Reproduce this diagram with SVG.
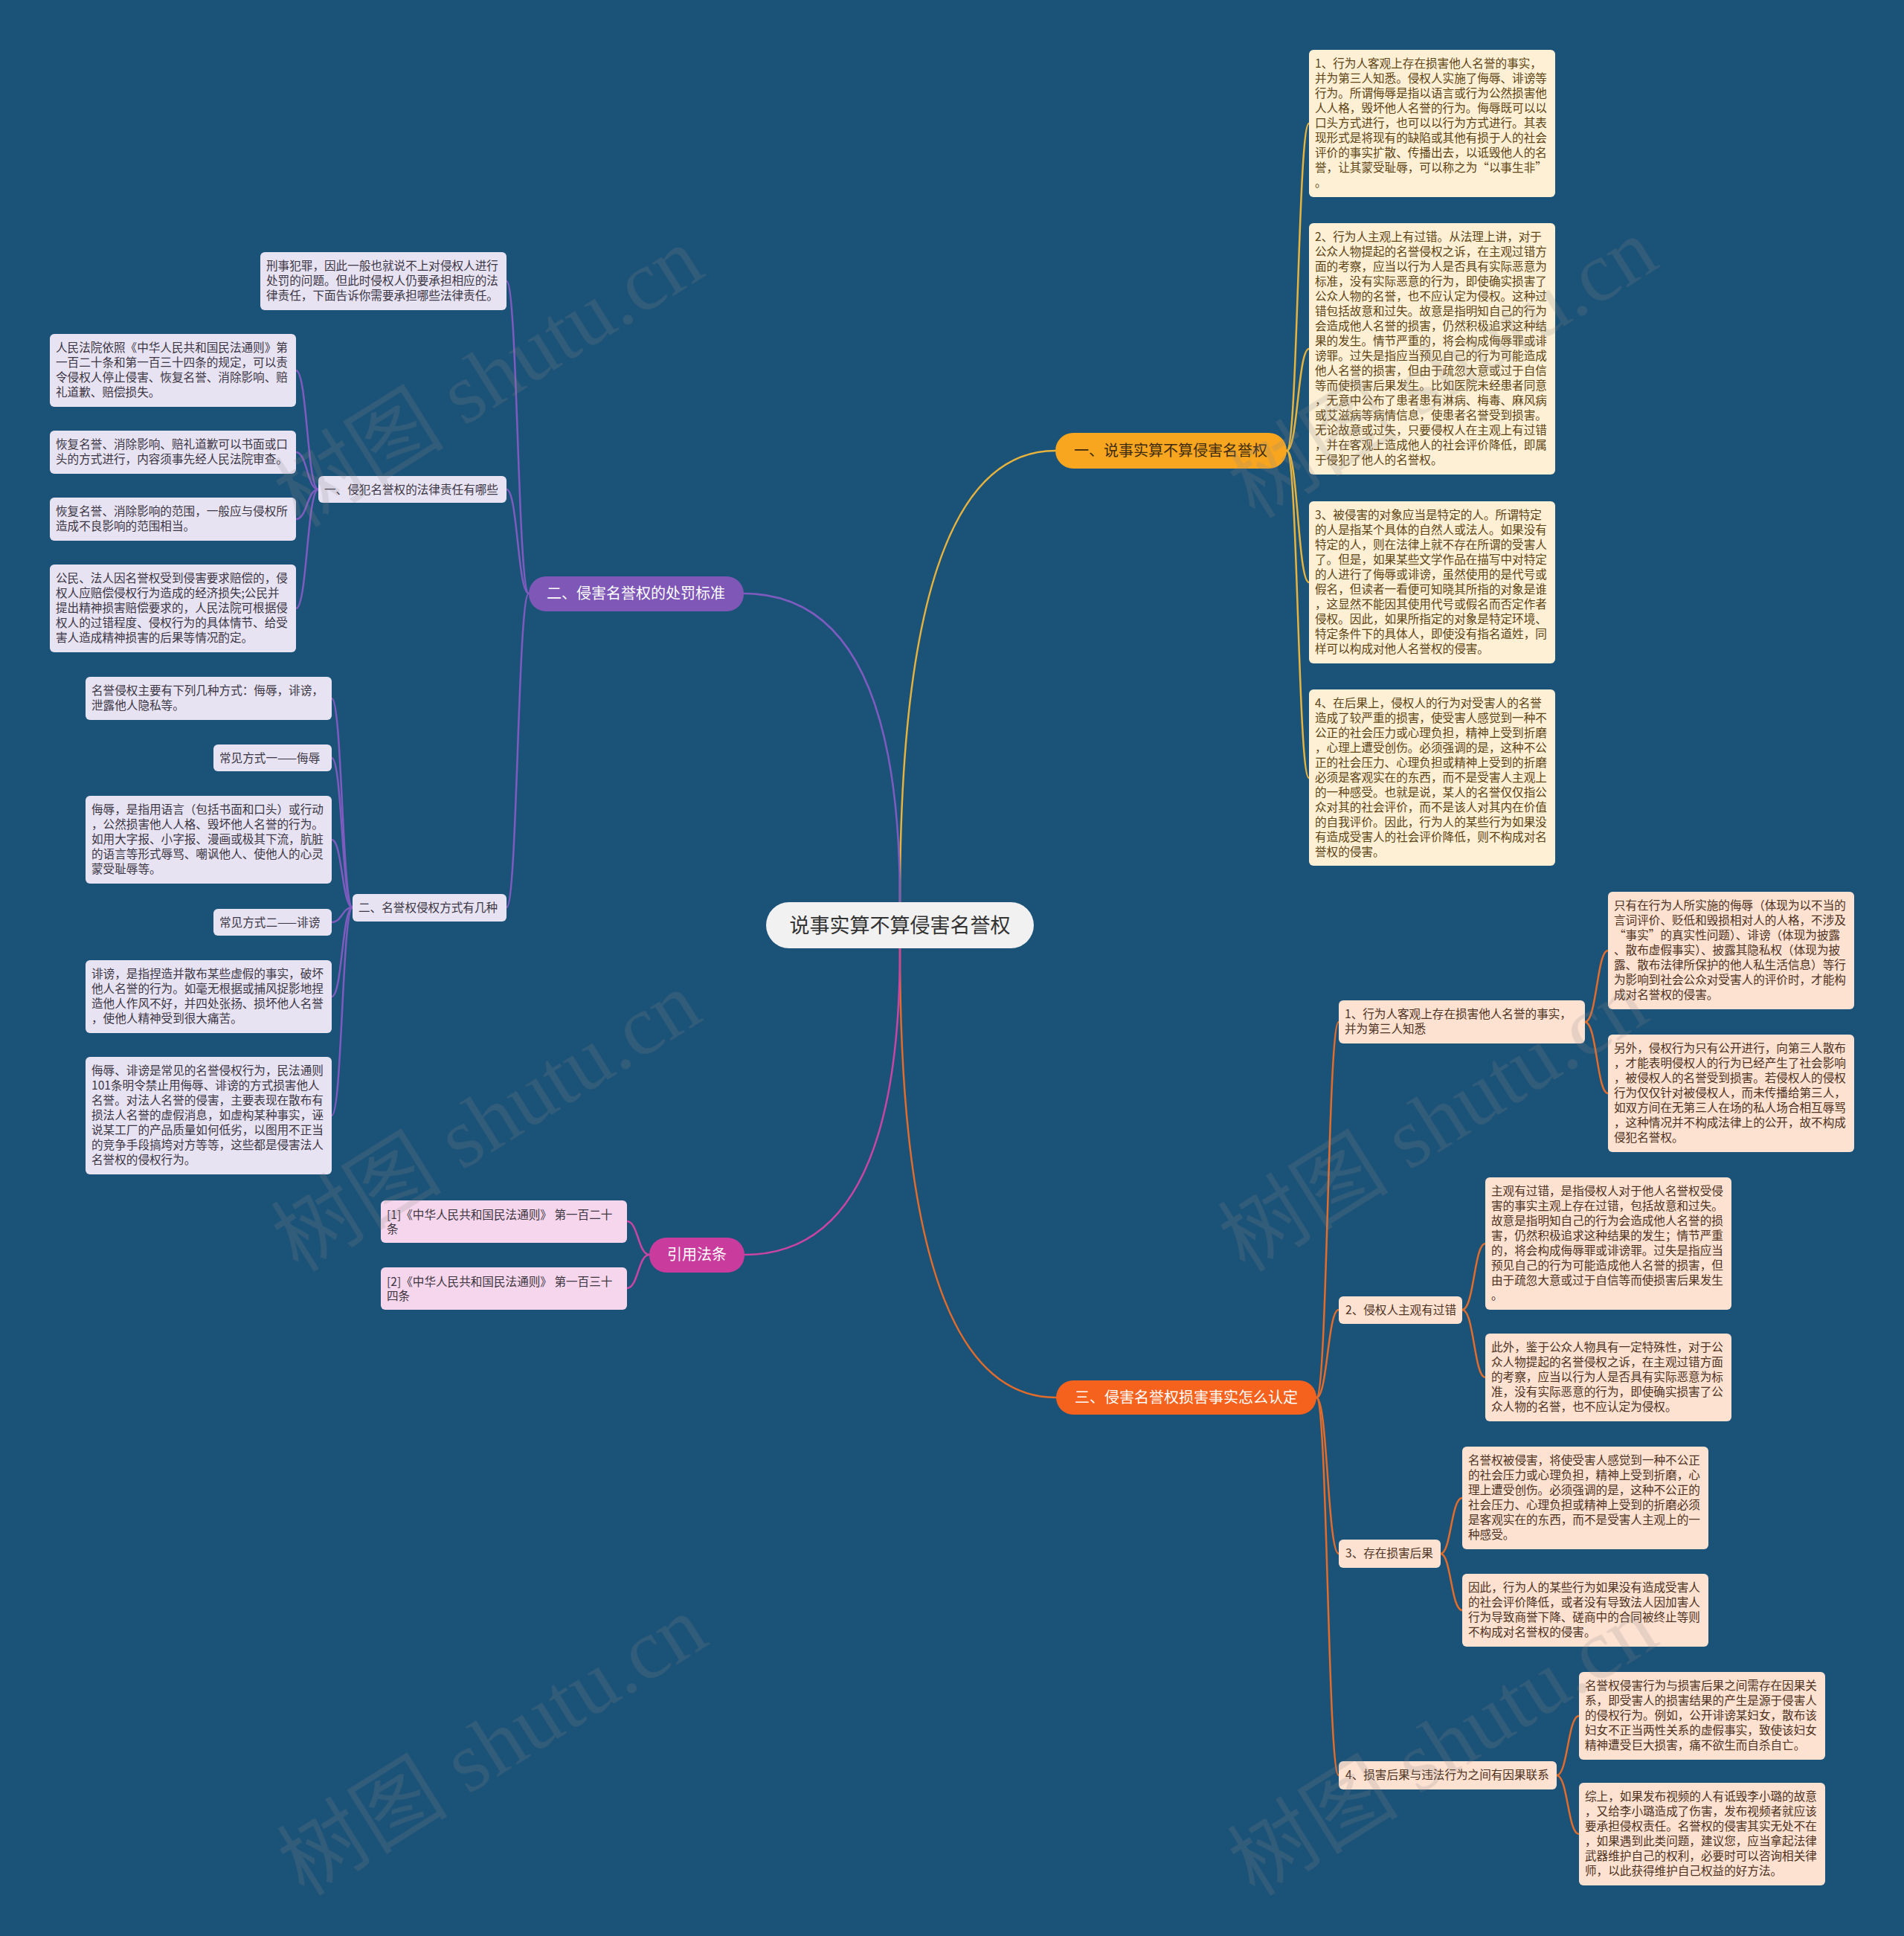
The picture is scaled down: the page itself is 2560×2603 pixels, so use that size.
<svg xmlns="http://www.w3.org/2000/svg" width="2560" height="2603" viewBox="0 0 2560 2603">
<style>
.t{font-family:"Noto Sans CJK SC","Noto Sans CJK JP",sans-serif;font-size:15.6px}
.b{font-family:"Noto Sans CJK SC","Noto Sans CJK JP",sans-serif;font-size:20px;text-anchor:middle}
.k1 rect{fill:#fdf0d4}.k1 text{fill:#5e4315}
.k2 rect{fill:#e8e3f3}.k2 text{fill:#3b3644}
.k3 rect{fill:#fde1d1}.k3 text{fill:#4e3222}
.k4 rect{fill:#f5d6ec}.k4 text{fill:#3d3540}
#connectors path{fill:none;stroke-width:2.5;stroke-linecap:round}
.wm{font-family:"Liberation Serif","Noto Sans CJK SC",serif;font-size:115px;fill:#8a8a8a;opacity:.2;text-anchor:middle}
</style>
<rect width="2560" height="2603" fill="#1b5277"/>
<g id="connectors">
<g stroke="#e6b33f">
<path d="M1210,1213 Q1210,606 1419,606"/>
<path d="M1730,606 C1745,606 1745,166 1760,166"/>
<path d="M1730,606 C1745,606 1745,469 1760,469"/>
<path d="M1730,606 C1745,606 1745,783 1760,783"/>
<path d="M1730,606 C1745,606 1745,1046 1760,1046"/>
</g>
<g stroke="#7e5cbf">
<path d="M1210,1213 Q1210,798 1000,798"/>
<path d="M711,798 C696,798 696,378 681,378"/>
<path d="M711,798 C696,798 696,658 681,658"/>
<path d="M711,798 C696,798 696,1220 681,1220"/>
<path d="M428,658 C413,658 413,498 398,498"/>
<path d="M428,658 C413,658 413,608 398,608"/>
<path d="M428,658 C413,658 413,698 398,698"/>
<path d="M428,658 C413,658 413,818 398,818"/>
<path d="M474,1220 C460,1220 460,939 446,939"/>
<path d="M474,1220 C460,1220 460,1019 446,1019"/>
<path d="M474,1220 C460,1220 460,1129 446,1129"/>
<path d="M474,1220 C460,1220 460,1240 446,1240"/>
<path d="M474,1220 C460,1220 460,1340 446,1340"/>
<path d="M474,1220 C460,1220 460,1500 446,1500"/>
</g>
<g stroke="#e26c2c">
<path d="M1210,1275 Q1210,1879 1420,1879"/>
<path d="M1770,1879 C1785,1879 1785,1374 1800,1374"/>
<path d="M1770,1879 C1785,1879 1785,1761 1800,1761"/>
<path d="M1770,1879 C1785,1879 1785,2089 1800,2089"/>
<path d="M1770,1879 C1785,1879 1785,2387 1800,2387"/>
<path d="M2131,1374 C2147,1374 2147,1278 2162,1278"/>
<path d="M2131,1374 C2147,1374 2147,1470 2162,1470"/>
<path d="M1966,1761 C1982,1761 1982,1672 1997,1672"/>
<path d="M1966,1761 C1982,1761 1982,1852 1997,1852"/>
<path d="M1937,2089 C1951,2089 1951,2014 1966,2014"/>
<path d="M1937,2089 C1951,2089 1951,2165 1966,2165"/>
<path d="M2093,2387 C2108,2387 2108,2307 2123,2307"/>
<path d="M2093,2387 C2108,2387 2108,2466 2123,2466"/>
</g>
<g stroke="#c945a3">
<path d="M1210,1275 Q1210,1687 1001,1687"/>
<path d="M873,1687 C858,1687 858,1642 843,1642"/>
<path d="M873,1687 C858,1687 858,1732 843,1732"/>
</g>
</g>

<g id="root">
<rect x="1030" y="1213" width="360" height="62" rx="31" fill="#f1f1f1"/>
<text x="1210" y="1254" font-family="Noto Sans CJK SC, sans-serif" font-size="27" fill="#333" text-anchor="middle">说事实算不算侵害名誉权</text>
</g>

<g id="b1">
<rect x="1419" y="582" width="311" height="48" rx="24" fill="#f8a51f"/>
<text class="b" x="1574" y="613" fill="#3d2b0f">一、说事实算不算侵害名誉权</text>
</g>
<g id="b2">
<rect x="711" y="775" width="289" height="47" rx="23" fill="#7f57b6"/>
<text class="b" x="855" y="805" fill="#fff">二、侵害名誉权的处罚标准</text>
</g>
<g id="b3">
<rect x="1420" y="1856" width="350" height="46" rx="23" fill="#f5621e"/>
<text class="b" x="1595" y="1886" fill="#fff">三、侵害名誉权损害事实怎么认定</text>
</g>
<g id="b4">
<rect x="873" y="1664" width="128" height="47" rx="23" fill="#c93b9c"/>
<text class="b" x="937" y="1694" fill="#fff">引用法条</text>
</g>

<g id="c1" class="k1">
<rect x="1760" y="67" width="331" height="198" rx="6"/>
<text class="t"><tspan x="1768" y="91">1、行为人客观上存在损害他人名誉的事实，</tspan><tspan x="1768" y="111">并为第三人知悉。侵权人实施了侮辱、诽谤等</tspan><tspan x="1768" y="131">行为。所谓侮辱是指以语言或行为公然损害他</tspan><tspan x="1768" y="151">人人格，毁坏他人名誉的行为。侮辱既可以以</tspan><tspan x="1768" y="171">口头方式进行，也可以以行为方式进行。其表</tspan><tspan x="1768" y="191">现形式是将现有的缺陷或其他有损于人的社会</tspan><tspan x="1768" y="211">评价的事实扩散、传播出去，以诋毁他人的名</tspan><tspan x="1768" y="231">誉，让其蒙受耻辱，可以称之为“以事生非”</tspan><tspan x="1768" y="251">。</tspan></text>
</g>
<g id="c2" class="k1">
<rect x="1760" y="300" width="331" height="338" rx="6"/>
<text class="t"><tspan x="1768" y="324">2、行为人主观上有过错。从法理上讲，对于</tspan><tspan x="1768" y="344">公众人物提起的名誉侵权之诉，在主观过错方</tspan><tspan x="1768" y="364">面的考察，应当以行为人是否具有实际恶意为</tspan><tspan x="1768" y="384">标准，没有实际恶意的行为，即使确实损害了</tspan><tspan x="1768" y="404">公众人物的名誉，也不应认定为侵权。这种过</tspan><tspan x="1768" y="424">错包括故意和过失。故意是指明知自己的行为</tspan><tspan x="1768" y="444">会造成他人名誉的损害，仍然积极追求这种结</tspan><tspan x="1768" y="464">果的发生。情节严重的，将会构成侮辱罪或诽</tspan><tspan x="1768" y="484">谤罪。过失是指应当预见自己的行为可能造成</tspan><tspan x="1768" y="504">他人名誉的损害，但由于疏忽大意或过于自信</tspan><tspan x="1768" y="524">等而使损害后果发生。比如医院未经患者同意</tspan><tspan x="1768" y="544">，无意中公布了患者患有淋病、梅毒、麻风病</tspan><tspan x="1768" y="564">或艾滋病等病情信息，使患者名誉受到损害。</tspan><tspan x="1768" y="584">无论故意或过失，只要侵权人在主观上有过错</tspan><tspan x="1768" y="604">，并在客观上造成他人的社会评价降低，即属</tspan><tspan x="1768" y="624">于侵犯了他人的名誉权。</tspan></text>
</g>
<g id="c3" class="k1">
<rect x="1760" y="674" width="331" height="218" rx="6"/>
<text class="t"><tspan x="1768" y="698">3、被侵害的对象应当是特定的人。所谓特定</tspan><tspan x="1768" y="718">的人是指某个具体的自然人或法人。如果没有</tspan><tspan x="1768" y="738">特定的人，则在法律上就不存在所谓的受害人</tspan><tspan x="1768" y="758">了。但是，如果某些文学作品在描写中对特定</tspan><tspan x="1768" y="778">的人进行了侮辱或诽谤，虽然使用的是代号或</tspan><tspan x="1768" y="798">假名，但读者一看便可知晓其所指的对象是谁</tspan><tspan x="1768" y="818">，这显然不能因其使用代号或假名而否定作者</tspan><tspan x="1768" y="838">侵权。因此，如果所指定的对象是特定环境、</tspan><tspan x="1768" y="858">特定条件下的具体人，即使没有指名道姓，同</tspan><tspan x="1768" y="878">样可以构成对他人名誉权的侵害。</tspan></text>
</g>
<g id="c4" class="k1">
<rect x="1760" y="927" width="331" height="237" rx="6"/>
<text class="t"><tspan x="1768" y="951">4、在后果上，侵权人的行为对受害人的名誉</tspan><tspan x="1768" y="971">造成了较严重的损害，使受害人感觉到一种不</tspan><tspan x="1768" y="991">公正的社会压力或心理负担，精神上受到折磨</tspan><tspan x="1768" y="1011">，心理上遭受创伤。必须强调的是，这种不公</tspan><tspan x="1768" y="1031">正的社会压力、心理负担或精神上受到的折磨</tspan><tspan x="1768" y="1051">必须是客观实在的东西，而不是受害人主观上</tspan><tspan x="1768" y="1071">的一种感受。也就是说，某人的名誉仅仅指公</tspan><tspan x="1768" y="1091">众对其的社会评价，而不是该人对其内在价值</tspan><tspan x="1768" y="1111">的自我评价。因此，行为人的某些行为如果没</tspan><tspan x="1768" y="1131">有造成受害人的社会评价降低，则不构成对名</tspan><tspan x="1768" y="1151">誉权的侵害。</tspan></text>
</g>

<g id="s1" class="k3">
<rect x="1800" y="1345" width="331" height="58" rx="6"/>
<text class="t"><tspan x="1808" y="1369">1、行为人客观上存在损害他人名誉的事实，</tspan><tspan x="1808" y="1389">并为第三人知悉</tspan></text>
</g>
<g id="s1a" class="k3">
<rect x="2162" y="1199" width="331" height="158" rx="6"/>
<text class="t"><tspan x="2170" y="1223">只有在行为人所实施的侮辱（体现为以不当的</tspan><tspan x="2170" y="1243">言词评价、贬低和毁损相对人的人格，不涉及</tspan><tspan x="2170" y="1263">“事实”的真实性问题）、诽谤（体现为披露</tspan><tspan x="2170" y="1283">、散布虚假事实）、披露其隐私权（体现为披</tspan><tspan x="2170" y="1303">露、散布法律所保护的他人私生活信息）等行</tspan><tspan x="2170" y="1323">为影响到社会公众对受害人的评价时，才能构</tspan><tspan x="2170" y="1343">成对名誉权的侵害。</tspan></text>
</g>
<g id="s1b" class="k3">
<rect x="2162" y="1391" width="331" height="158" rx="6"/>
<text class="t"><tspan x="2170" y="1415">另外，侵权行为只有公开进行，向第三人散布</tspan><tspan x="2170" y="1435">，才能表明侵权人的行为已经产生了社会影响</tspan><tspan x="2170" y="1455">，被侵权人的名誉受到损害。若侵权人的侵权</tspan><tspan x="2170" y="1475">行为仅仅针对被侵权人，而未传播给第三人，</tspan><tspan x="2170" y="1495">如双方间在无第三人在场的私人场合相互辱骂</tspan><tspan x="2170" y="1515">，这种情况并不构成法律上的公开，故不构成</tspan><tspan x="2170" y="1535">侵犯名誉权。</tspan></text>
</g>
<g id="s2" class="k3">
<rect x="1800" y="1743" width="166" height="37" rx="6"/>
<text class="t" x="1809" y="1767">2、侵权人主观有过错</text>
</g>
<g id="s2a" class="k3">
<rect x="1997" y="1583" width="331" height="178" rx="6"/>
<text class="t"><tspan x="2005" y="1607">主观有过错，是指侵权人对于他人名誉权受侵</tspan><tspan x="2005" y="1627">害的事实主观上存在过错，包括故意和过失。</tspan><tspan x="2005" y="1647">故意是指明知自己的行为会造成他人名誉的损</tspan><tspan x="2005" y="1667">害，仍然积极追求这种结果的发生；情节严重</tspan><tspan x="2005" y="1687">的，将会构成侮辱罪或诽谤罪。过失是指应当</tspan><tspan x="2005" y="1707">预见自己的行为可能造成他人名誉的损害，但</tspan><tspan x="2005" y="1727">由于疏忽大意或过于自信等而使损害后果发生</tspan><tspan x="2005" y="1747">。</tspan></text>
</g>
<g id="s2b" class="k3">
<rect x="1997" y="1793" width="331" height="118" rx="6"/>
<text class="t"><tspan x="2005" y="1817">此外，鉴于公众人物具有一定特殊性，对于公</tspan><tspan x="2005" y="1837">众人物提起的名誉侵权之诉，在主观过错方面</tspan><tspan x="2005" y="1857">的考察，应当以行为人是否具有实际恶意为标</tspan><tspan x="2005" y="1877">准，没有实际恶意的行为，即使确实损害了公</tspan><tspan x="2005" y="1897">众人物的名誉，也不应认定为侵权。</tspan></text>
</g>
<g id="s3" class="k3">
<rect x="1800" y="2070" width="137" height="38" rx="6"/>
<text class="t" x="1809" y="2094">3、存在损害后果</text>
</g>
<g id="s3a" class="k3">
<rect x="1966" y="1945" width="331" height="138" rx="6"/>
<text class="t"><tspan x="1974" y="1969">名誉权被侵害，将使受害人感觉到一种不公正</tspan><tspan x="1974" y="1989">的社会压力或心理负担，精神上受到折磨，心</tspan><tspan x="1974" y="2009">理上遭受创伤。必须强调的是，这种不公正的</tspan><tspan x="1974" y="2029">社会压力、心理负担或精神上受到的折磨必须</tspan><tspan x="1974" y="2049">是客观实在的东西，而不是受害人主观上的一</tspan><tspan x="1974" y="2069">种感受。</tspan></text>
</g>
<g id="s3b" class="k3">
<rect x="1966" y="2116" width="331" height="98" rx="6"/>
<text class="t"><tspan x="1974" y="2140">因此，行为人的某些行为如果没有造成受害人</tspan><tspan x="1974" y="2160">的社会评价降低，或者没有导致法人因加害人</tspan><tspan x="1974" y="2180">行为导致商誉下降、磋商中的合同被终止等则</tspan><tspan x="1974" y="2200">不构成对名誉权的侵害。</tspan></text>
</g>
<g id="s4" class="k3">
<rect x="1800" y="2368" width="293" height="38" rx="6"/>
<text class="t" x="1809" y="2392">4、损害后果与违法行为之间有因果联系</text>
</g>
<g id="s4a" class="k3">
<rect x="2123" y="2248" width="331" height="118" rx="6"/>
<text class="t"><tspan x="2131" y="2272">名誉权侵害行为与损害后果之间需存在因果关</tspan><tspan x="2131" y="2292">系，即受害人的损害结果的产生是源于侵害人</tspan><tspan x="2131" y="2312">的侵权行为。例如，公开诽谤某妇女，散布该</tspan><tspan x="2131" y="2332">妇女不正当两性关系的虚假事实，致使该妇女</tspan><tspan x="2131" y="2352">精神遭受巨大损害，痛不欲生而自杀自亡。</tspan></text>
</g>
<g id="s4b" class="k3">
<rect x="2123" y="2397" width="331" height="138" rx="6"/>
<text class="t"><tspan x="2131" y="2421">综上，如果发布视频的人有诋毁李小璐的故意</tspan><tspan x="2131" y="2441">，又给李小璐造成了伤害，发布视频者就应该</tspan><tspan x="2131" y="2461">要承担侵权责任。名誉权的侵害其实无处不在</tspan><tspan x="2131" y="2481">，如果遇到此类问题，建议您，应当拿起法律</tspan><tspan x="2131" y="2501">武器维护自己的权利，必要时可以咨询相关律</tspan><tspan x="2131" y="2521">师，以此获得维护自己权益的好方法。</tspan></text>
</g>

<g id="l2a" class="k2">
<rect x="350" y="339" width="331" height="78" rx="6"/>
<text class="t"><tspan x="358" y="363">刑事犯罪，因此一般也就说不上对侵权人进行</tspan><tspan x="358" y="383">处罚的问题。但此时侵权人仍要承担相应的法</tspan><tspan x="358" y="403">律责任，下面告诉你需要承担哪些法律责任。</tspan></text>
</g>
<g id="l2b" class="k2">
<rect x="428" y="640" width="253" height="36" rx="6"/>
<text class="t" x="436" y="664">一、侵犯名誉权的法律责任有哪些</text>
</g>
<g id="l2b1" class="k2">
<rect x="67" y="449" width="331" height="98" rx="6"/>
<text class="t"><tspan x="75" y="473">人民法院依照《中华人民共和国民法通则》第</tspan><tspan x="75" y="493">一百二十条和第一百三十四条的规定，可以责</tspan><tspan x="75" y="513">令侵权人停止侵害、恢复名誉、消除影响、赔</tspan><tspan x="75" y="533">礼道歉、赔偿损失。</tspan></text>
</g>
<g id="l2b2" class="k2">
<rect x="67" y="579" width="331" height="58" rx="6"/>
<text class="t"><tspan x="75" y="603">恢复名誉、消除影响、赔礼道歉可以书面或口</tspan><tspan x="75" y="623">头的方式进行，内容须事先经人民法院审查。</tspan></text>
</g>
<g id="l2b3" class="k2">
<rect x="67" y="669" width="331" height="58" rx="6"/>
<text class="t"><tspan x="75" y="693">恢复名誉、消除影响的范围，一般应与侵权所</tspan><tspan x="75" y="713">造成不良影响的范围相当。</tspan></text>
</g>
<g id="l2b4" class="k2">
<rect x="67" y="759" width="331" height="118" rx="6"/>
<text class="t"><tspan x="75" y="783">公民、法人因名誉权受到侵害要求赔偿的，侵</tspan><tspan x="75" y="803">权人应赔偿侵权行为造成的经济损失;公民并</tspan><tspan x="75" y="823">提出精神损害赔偿要求的，人民法院可根据侵</tspan><tspan x="75" y="843">权人的过错程度、侵权行为的具体情节、给受</tspan><tspan x="75" y="863">害人造成精神损害的后果等情况酌定。</tspan></text>
</g>
<g id="l2c" class="k2">
<rect x="474" y="1202" width="207" height="37" rx="6"/>
<text class="t" x="482" y="1226">二、名誉权侵权方式有几种</text>
</g>
<g id="l2c1" class="k2">
<rect x="115" y="910" width="331" height="58" rx="6"/>
<text class="t"><tspan x="123" y="934">名誉侵权主要有下列几种方式：侮辱，诽谤，</tspan><tspan x="123" y="954">泄露他人隐私等。</tspan></text>
</g>
<g id="l2c2" class="k2">
<rect x="287" y="1001" width="159" height="36" rx="6"/>
<text class="t" x="295" y="1025">常见方式一——侮辱</text>
</g>
<g id="l2c3" class="k2">
<rect x="115" y="1070" width="331" height="118" rx="6"/>
<text class="t"><tspan x="123" y="1094">侮辱，是指用语言（包括书面和口头）或行动</tspan><tspan x="123" y="1114">，公然损害他人人格、毁坏他人名誉的行为。</tspan><tspan x="123" y="1134">如用大字报、小字报、漫画或极其下流，肮脏</tspan><tspan x="123" y="1154">的语言等形式辱骂、嘲讽他人、使他人的心灵</tspan><tspan x="123" y="1174">蒙受耻辱等。</tspan></text>
</g>
<g id="l2c4" class="k2">
<rect x="287" y="1222" width="159" height="36" rx="6"/>
<text class="t" x="295" y="1246">常见方式二——诽谤</text>
</g>
<g id="l2c5" class="k2">
<rect x="115" y="1291" width="331" height="98" rx="6"/>
<text class="t"><tspan x="123" y="1315">诽谤，是指捏造并散布某些虚假的事实，破坏</tspan><tspan x="123" y="1335">他人名誉的行为。如毫无根据或捕风捉影地捏</tspan><tspan x="123" y="1355">造他人作风不好，并四处张扬、损坏他人名誉</tspan><tspan x="123" y="1375">，使他人精神受到很大痛苦。</tspan></text>
</g>
<g id="l2c6" class="k2">
<rect x="115" y="1421" width="331" height="158" rx="6"/>
<text class="t"><tspan x="123" y="1445">侮辱、诽谤是常见的名誉侵权行为，民法通则</tspan><tspan x="123" y="1465">101条明令禁止用侮辱、诽谤的方式损害他人</tspan><tspan x="123" y="1485">名誉。对法人名誉的侵害，主要表现在散布有</tspan><tspan x="123" y="1505">损法人名誉的虚假消息，如虚构某种事实，诬</tspan><tspan x="123" y="1525">说某工厂的产品质量如何低劣，以图用不正当</tspan><tspan x="123" y="1545">的竞争手段搞垮对方等等，这些都是侵害法人</tspan><tspan x="123" y="1565">名誉权的侵权行为。</tspan></text>
</g>

<g id="r1" class="k4">
<rect x="512" y="1614" width="331" height="57" rx="6"/>
<text class="t"><tspan x="520" y="1639">[1]《中华人民共和国民法通则》 第一百二十</tspan><tspan x="520" y="1658">条</tspan></text>
</g>
<g id="r2" class="k4">
<rect x="512" y="1704" width="331" height="57" rx="6"/>
<text class="t"><tspan x="520" y="1729">[2]《中华人民共和国民法通则》 第一百三十</tspan><tspan x="520" y="1748">四条</tspan></text>
</g>

<g id="watermark" class="wm">
<text x="659" y="545" transform="rotate(-32 659 510)">树图 shutu.cn</text>
<text x="656" y="1546" transform="rotate(-32 656 1511)">树图 shutu.cn</text>
<text x="664" y="2385" transform="rotate(-32 664 2350)">树图 shutu.cn</text>
<text x="1942" y="533" transform="rotate(-32 1942 498)">树图 shutu.cn</text>
<text x="1929" y="1546" transform="rotate(-32 1929 1511)">树图 shutu.cn</text>
<text x="1942" y="2385" transform="rotate(-32 1942 2350)">树图 shutu.cn</text>
</g>
</svg>
